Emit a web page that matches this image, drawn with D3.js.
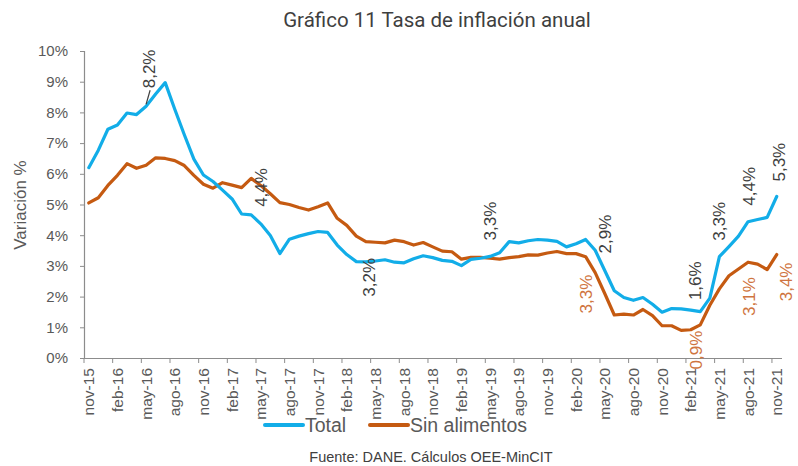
<!DOCTYPE html>
<html><head><meta charset="utf-8">
<script src="https://cdn.jsdelivr.net/npm/d3@7"></script>
<style>body{margin:0;background:#fff}svg{display:block}</style>
</head><body>
<svg id="chart" width="798" height="466"></svg>
<script>
// ---------- DATA ----------
const months = [
 "nov-15","dic-15",
 "ene-16","feb-16","mar-16","abr-16","may-16","jun-16","jul-16","ago-16","sep-16","oct-16","nov-16","dic-16",
 "ene-17","feb-17","mar-17","abr-17","may-17","jun-17","jul-17","ago-17","sep-17","oct-17","nov-17","dic-17",
 "ene-18","feb-18","mar-18","abr-18","may-18","jun-18","jul-18","ago-18","sep-18","oct-18","nov-18","dic-18",
 "ene-19","feb-19","mar-19","abr-19","may-19","jun-19","jul-19","ago-19","sep-19","oct-19","nov-19","dic-19",
 "ene-20","feb-20","mar-20","abr-20","may-20","jun-20","jul-20","ago-20","sep-20","oct-20","nov-20","dic-20",
 "ene-21","feb-21","mar-21","abr-21","may-21","jun-21","jul-21","ago-21","sep-21","oct-21","nov-21"
];
const total = [
 6.20, 6.77,
 7.45, 7.59, 7.98, 7.93, 8.20, 8.60, 8.97, 8.10, 7.27, 6.48, 5.96, 5.75,
 5.47, 5.18, 4.69, 4.66, 4.37, 3.99, 3.40, 3.87, 3.97, 4.05, 4.12, 4.09,
 3.68, 3.37, 3.14, 3.13, 3.16, 3.20, 3.12, 3.10, 3.23, 3.33, 3.27, 3.18,
 3.15, 3.01, 3.21, 3.25, 3.31, 3.43, 3.79, 3.75, 3.82, 3.86, 3.84, 3.80,
 3.62, 3.72, 3.86, 3.51, 2.85, 2.19, 1.97, 1.88, 1.97, 1.75, 1.49, 1.61,
 1.60, 1.56, 1.51, 1.95, 3.30, 3.63, 3.97, 4.44, 4.51, 4.58, 5.26
];
const sinAlimentos = [
 5.05, 5.22,
 5.62, 5.95, 6.33, 6.18, 6.28, 6.52, 6.50, 6.43, 6.27, 5.95, 5.66, 5.53,
 5.71, 5.63, 5.55, 5.85, 5.62, 5.35, 5.06, 5.00, 4.90, 4.82, 4.93, 5.05,
 4.55, 4.32, 3.97, 3.79, 3.77, 3.75, 3.84, 3.79, 3.68, 3.76, 3.62, 3.48,
 3.46, 3.22, 3.28, 3.28, 3.25, 3.22, 3.27, 3.30, 3.36, 3.35, 3.42, 3.47,
 3.40, 3.40, 3.30, 2.78, 2.10, 1.40, 1.43, 1.40, 1.58, 1.38, 1.05, 1.05,
 0.90, 0.92, 1.08, 1.72, 2.25, 2.68, 2.90, 3.12, 3.06, 2.88, 3.37
];
const xTickLabels = ["nov-15","feb-16","may-16","ago-16","nov-16","feb-17","may-17","ago-17","nov-17",
 "feb-18","may-18","ago-18","nov-18","feb-19","may-19","ago-19","nov-19","feb-20","may-20","ago-20",
 "nov-20","feb-21","may-21","ago-21","nov-21"];
const yTickValues = [0,1,2,3,4,5,6,7,8,9,10];
const seriesNames = ["Total","Sin alimentos"];
const totalLabelMonths = ["may-16","may-17","may-18","may-19","may-20","feb-21","may-21","ago-21","nov-21"];
const totalLabelTexts  = ["8,2%","4,4%","3,2%","3,3%","2,9%","1,6%","3,3%","4,4%","5,3%"];
const sinLabelMonths = ["mar-20","feb-21","ago-21","nov-21"];
const sinLabelTexts  = ["3,3%","0,9%","3,1%","3,4%"];
const titleText = "Gráfico 11 Tasa de inflación anual";
const yTitle = "Variación %";
const sourceText = "Fuente: DANE. Cálculos OEE-MinCIT";

// ---------- STYLE / LAYOUT ----------
const C_TOTAL = "#12ADE8", C_SIN = "#C55A11", C_TEXT = "#595959", C_AXIS = "#8c8c8c";
const FONT = "'Liberation Sans', Arial, sans-serif";
// label placement: [dx, gap] (gap = px from point to label edge)
const totalLabelPos = [[3,18],[0,17],[-6,-3],[0,16],[0,17],[4,10],[0,16],[1,16],[2,15]];
const totalLabelSide = ["up","up","down","up","up","up","up","up","up"];
const sinLabelPos = [[0,18],[5,1],[1,15],[9,8]];

const svg = d3.select("#chart");
const x = d3.scaleBand().domain(months).range([84, 781.5]).padding(0);
const y = d3.scaleLinear().domain([0,10]).range([358, 51]);
const cx = m => x(m) + x.bandwidth()/2;

// title
svg.append("text").attr("x",437).attr("y",27).attr("text-anchor","middle")
  .style("font-family","Roboto, sans-serif").style("font-size","20.5px").attr("fill","#3f3f3f").text(titleText);

// y axis
const gy = svg.append("g").attr("transform","translate(84,0)")
  .call(d3.axisLeft(y).tickValues(yTickValues).tickFormat(d=>d+"%").tickSize(4).tickPadding(12));
gy.select(".domain").attr("stroke",C_AXIS).attr("stroke-width",1.2);
gy.selectAll(".tick line").attr("stroke",C_AXIS);
gy.selectAll(".tick text").style("font-family",FONT).style("font-size","15px").attr("fill",C_TEXT);

// x axis
const gx = svg.append("g").attr("transform","translate(0,358)")
  .call(d3.axisBottom(x).tickValues(xTickLabels).tickSize(5).tickSizeOuter(0));
gx.select(".domain").attr("stroke",C_AXIS).attr("stroke-width",1.2);
gx.selectAll(".tick line").attr("stroke",C_AXIS).attr("transform",`translate(${-x.bandwidth()/2},0)`);
gx.selectAll(".tick text").style("font-family",FONT).style("font-size","15.5px").attr("fill",C_TEXT)
  .attr("transform","rotate(-90)").attr("text-anchor","end").attr("x",-10).attr("y",0).attr("dy","0.36em");

// y title
svg.append("text").attr("transform","translate(20,205) rotate(-90)").attr("text-anchor","middle")
  .attr("dy","0.35em").style("font-family",FONT).style("font-size","17px").attr("fill",C_TEXT).text(yTitle);

// lines
const line = vals => d3.line().x((d,i)=>cx(months[i])).y(d=>y(d))(vals);
svg.append("path").attr("d",line(sinAlimentos)).attr("fill","none").attr("stroke",C_SIN)
  .attr("stroke-width",3.2).attr("stroke-linejoin","round").attr("stroke-linecap","round");
svg.append("path").attr("d",line(total)).attr("fill","none").attr("stroke",C_TOTAL)
  .attr("stroke-width",3.2).attr("stroke-linejoin","round").attr("stroke-linecap","round");

// data labels
const lblFont = 17;
totalLabelMonths.forEach((m,k)=>{
  const i = months.indexOf(m), px = cx(m), py = y(total[i]);
  const [dx,gap] = totalLabelPos[k];
  const up = totalLabelSide[k]==="up";
  const ty = up ? py - gap : py + gap;
  svg.append("text").attr("transform",`translate(${px+dx},${ty}) rotate(-90)`)
    .attr("text-anchor", up ? "start" : "end").attr("dy","0.35em")
    .style("font-family",FONT).style("font-size",lblFont+"px").attr("fill","#404040").text(totalLabelTexts[k]);
  if (k===0) {
    svg.append("line").attr("x1",px).attr("y1",py-2).attr("x2",px+4).attr("y2",py-gap+2)
      .attr("stroke","#404040").attr("stroke-width",1.2);
  }
});
sinLabelMonths.forEach((m,k)=>{
  const i = months.indexOf(m), px = cx(m), py = y(sinAlimentos[i]);
  const [dx,gap] = sinLabelPos[k];
  svg.append("text").attr("transform",`translate(${px+dx},${py+gap}) rotate(-90)`)
    .attr("text-anchor","end").attr("dy","0.35em")
    .style("font-family",FONT).style("font-size",lblFont+"px").attr("fill","#CF7440").text(sinLabelTexts[k]);
});

// legend
const legend = svg.append("g").attr("transform","translate(265,425)");
const legX = [0,105];
seriesNames.forEach((n,k)=>{
  const g = legend.append("g").attr("transform",`translate(${legX[k]},0)`);
  g.append("line").attr("x1",0).attr("x2",38).attr("y1",0).attr("y2",0)
    .attr("stroke",k===0?C_TOTAL:C_SIN).attr("stroke-width",4).attr("stroke-linecap","round");
  g.append("text").attr("x",40).attr("y",0).attr("dy","0.36em")
    .style("font-family",FONT).style("font-size","19.5px").attr("fill",C_TEXT).text(n);
});

// source
svg.append("text").attr("x",431).attr("y",462).attr("text-anchor","middle")
  .style("font-family",FONT).style("font-size","14.5px").attr("fill","#404040").text(sourceText);
</script>
</body></html>
